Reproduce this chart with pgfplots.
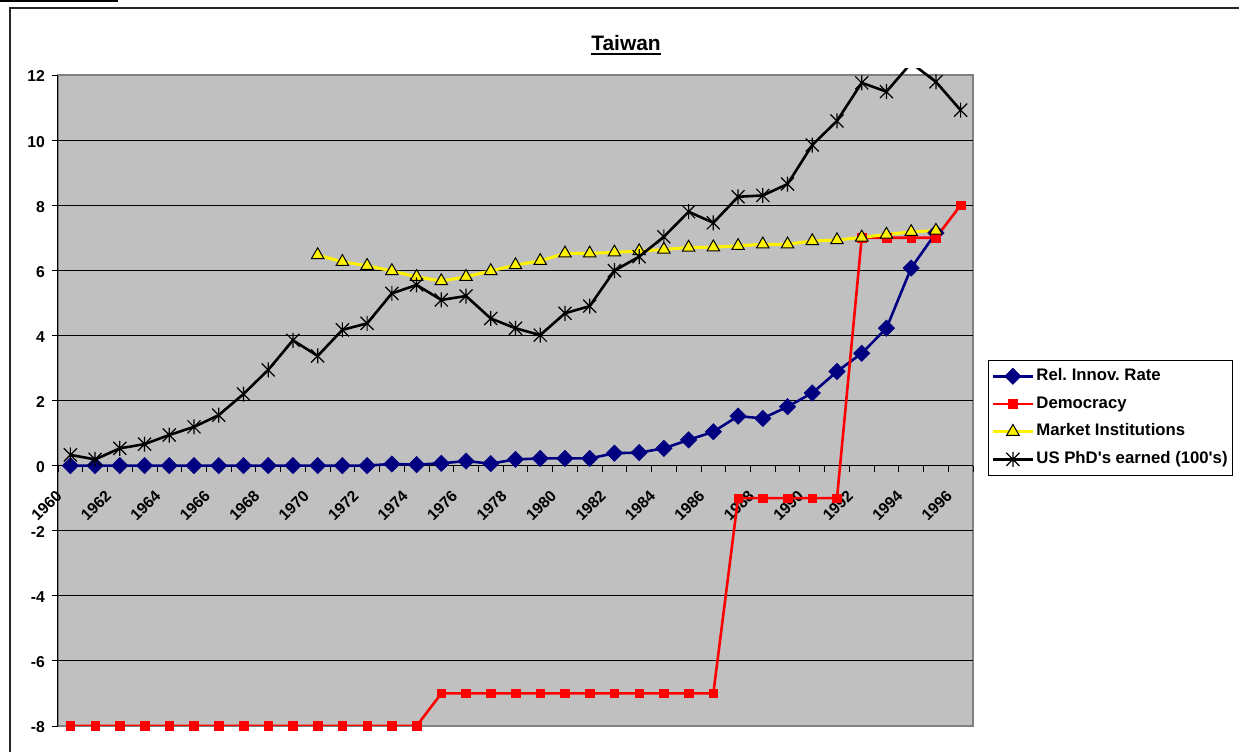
\documentclass[border=0pt]{standalone}
\usepackage{fontspec}
\setmainfont{Liberation Sans}
\usepackage{pgfplots}
\usepackage{pgfplotstable}
\pgfplotsset{compat=1.18}
\definecolor{plotgray}{HTML}{C0C0C0}
\definecolor{framegray}{HTML}{808080}
\definecolor{navyblue}{HTML}{000080}
\frenchspacing

\pgfdeclareplotmark{xstar}{%
  \pgfpathmoveto{\pgfqpoint{-0.87\pgfplotmarksize}{-0.87\pgfplotmarksize}}%
  \pgfpathlineto{\pgfqpoint{0.87\pgfplotmarksize}{0.87\pgfplotmarksize}}%
  \pgfpathmoveto{\pgfqpoint{-0.87\pgfplotmarksize}{0.87\pgfplotmarksize}}%
  \pgfpathlineto{\pgfqpoint{0.87\pgfplotmarksize}{-0.87\pgfplotmarksize}}%
  \pgfpathmoveto{\pgfqpoint{0pt}{-\pgfplotmarksize}}%
  \pgfpathlineto{\pgfqpoint{0pt}{\pgfplotmarksize}}%
  \pgfusepathqstroke}

\pgfplotstableread{
year v
1960 0
1961 0
1962 0
1963 0
1964 0
1965 0
1966 0
1967 0
1968 0
1969 0
1970 0
1971 0
1972 0
1973 0.05
1974 0.03
1975 0.07
1976 0.14
1977 0.06
1978 0.19
1979 0.22
1980 0.22
1981 0.22
1982 0.38
1983 0.40
1984 0.53
1985 0.79
1986 1.04
1987 1.52
1988 1.45
1989 1.81
1990 2.23
1991 2.89
1992 3.45
1993 4.22
1994 6.07
1995 7.15
}\relinnov

\pgfplotstableread{
year v
1960 -8
1961 -8
1962 -8
1963 -8
1964 -8
1965 -8
1966 -8
1967 -8
1968 -8
1969 -8
1970 -8
1971 -8
1972 -8
1973 -8
1974 -8
1975 -7
1976 -7
1977 -7
1978 -7
1979 -7
1980 -7
1981 -7
1982 -7
1983 -7
1984 -7
1985 -7
1986 -7
1987 -1
1988 -1
1989 -1
1990 -1
1991 -1
1992 7
1993 7
1994 7
1995 7
1996 8
}\democracy

\pgfplotstableread{
year v
1970 6.47
1971 6.26
1972 6.14
1973 5.98
1974 5.80
1975 5.67
1976 5.80
1977 5.98
1978 6.16
1979 6.29
1980 6.52
1981 6.52
1982 6.55
1983 6.59
1984 6.64
1985 6.70
1986 6.71
1987 6.75
1988 6.80
1989 6.80
1990 6.90
1991 6.93
1992 7.01
1993 7.10
1994 7.18
1995 7.22
}\market

\pgfplotstableread{
year v
1960 0.33
1961 0.19
1962 0.53
1963 0.66
1964 0.94
1965 1.19
1966 1.55
1967 2.20
1968 2.94
1969 3.85
1970 3.37
1971 4.17
1972 4.37
1973 5.29
1974 5.55
1975 5.09
1976 5.21
1977 4.52
1978 4.22
1979 4.01
1980 4.68
1981 4.90
1982 5.99
1983 6.42
1984 7.03
1985 7.80
1986 7.46
1987 8.26
1988 8.30
1989 8.65
1990 9.85
1991 10.59
1992 11.76
1993 11.49
1994 12.37
1995 11.79
1996 10.92
}\phd

\begin{document}
\begin{tikzpicture}
\path[use as bounding box] (-58bp,-26bp) rectangle (1181bp,726bp);
% outer chart frame (partially visible)
\draw[line width=1.5bp, black!85] (-48bp,-40bp) -- (-48bp,718bp) -- (1200bp,718bp);
\fill[black] (-60bp,724bp) rectangle (60bp,728bp);

\begin{axis}[
  at={(0,0)}, anchor=south west,
  scale only axis, width=915bp, height=651bp,
  xmin=1959.5, xmax=1996.5, ymin=-8, ymax=12,
  axis x line=middle, axis y line=left,
  axis line style={-, black, line width=1bp},
  axis background/.style={fill=plotgray, draw=framegray, line width=1.5bp},
  hide obscured x ticks=false, hide obscured y ticks=false,
  tick align=outside, major tick length=6bp,
  tick style={black, line width=0.8bp},
  xtick={1959.5,1960.5,...,1996.6}, xticklabels={},
  extra x ticks={1960,1962,1964,1966,1968,1970,1972,1974,1976,1978,1980,1982,1984,1986,1988,1990,1992,1994,1996},
  extra x tick labels={1960,1962,1964,1966,1968,1970,1972,1974,1976,1978,1980,1982,1984,1986,1988,1990,1992,1994,1996},
  extra x tick style={major tick length=0pt, xticklabel style={yshift=-25bp, xshift=-9bp, rotate=45, anchor=east}},
  ytick={-8,-6,-4,-2,0,2,4,6,8,10,12},
  yticklabels={-8,-6,-4,-2,0,2,4,6,8,10,12},
  yticklabel style={xshift=-3.5bp, yshift=-1.5bp},
  extra y ticks={-6,-4,-2,2,4,6,8,10}, extra y tick labels={},
  extra y tick style={major tick length=0pt, grid=major, major grid style={black, line width=0.9bp}},
  ticklabel style={font=\fontsize{15.8}{18}\selectfont\bfseries},
  legend style={at={(1.0164,0.5622)}, anchor=north west, draw=black, line width=0.8bp, fill=white,
    font=\fontsize{16.8}{19}\selectfont\bfseries\frenchspacing, inner xsep=3bp, inner ysep=2bp,
    nodes={inner xsep=2bp, inner ysep=6.1bp, text height=12bp, text depth=3.5bp}},
  legend cell align=left,
  legend image code/.code={\draw[mark repeat=2,mark phase=2,#1] plot coordinates {(0bp,0bp) (20bp,0bp) (40bp,0bp)};},
]
\addplot[navyblue, line width=2.6bp, mark=square*, mark size=5.8bp, mark options={rotate=45, fill=navyblue, line width=0.5bp}] table[x=year, y=v] {\relinnov};
\addplot[red, line width=2.6bp, mark=square*, mark size=4.3bp, mark options={fill=red, line width=0.5bp}] table[x=year, y=v] {\democracy};
\addplot[yellow, line width=3bp, mark=triangle*, mark size=7.2bp, mark options={fill=yellow, draw=black, line width=1bp}] table[x=year, y=v] {\market};
\addlegendimage{black, line width=2.6bp, mark=xstar, mark size=7.5bp, mark options={line width=1.2bp}}
\legend{Rel. Innov. Rate, Democracy, Market Institutions, US PhD\textquotesingle s earned (100\textquotesingle s)}
\end{axis}

\begin{axis}[
  at={(0,0)}, anchor=south west,
  scale only axis, width=915bp, height=657.8bp,
  xmin=1959.5, xmax=1996.5, ymin=-8, ymax=12.21,
  hide axis, clip=true,
]
\addplot[black, line width=2.6bp, mark=xstar, mark size=7.5bp, mark options={line width=1.2bp}] table[x=year, y=v] {\phd};
\end{axis}

\node[font=\fontsize{21}{25}\selectfont\bfseries, inner sep=0, anchor=base] (t) at (568bp,675bp) {Taiwan};
\draw[line width=2.6bp] ([yshift=-3bp]t.base west) -- ([yshift=-3bp]t.base east);
\end{tikzpicture}
\end{document}
